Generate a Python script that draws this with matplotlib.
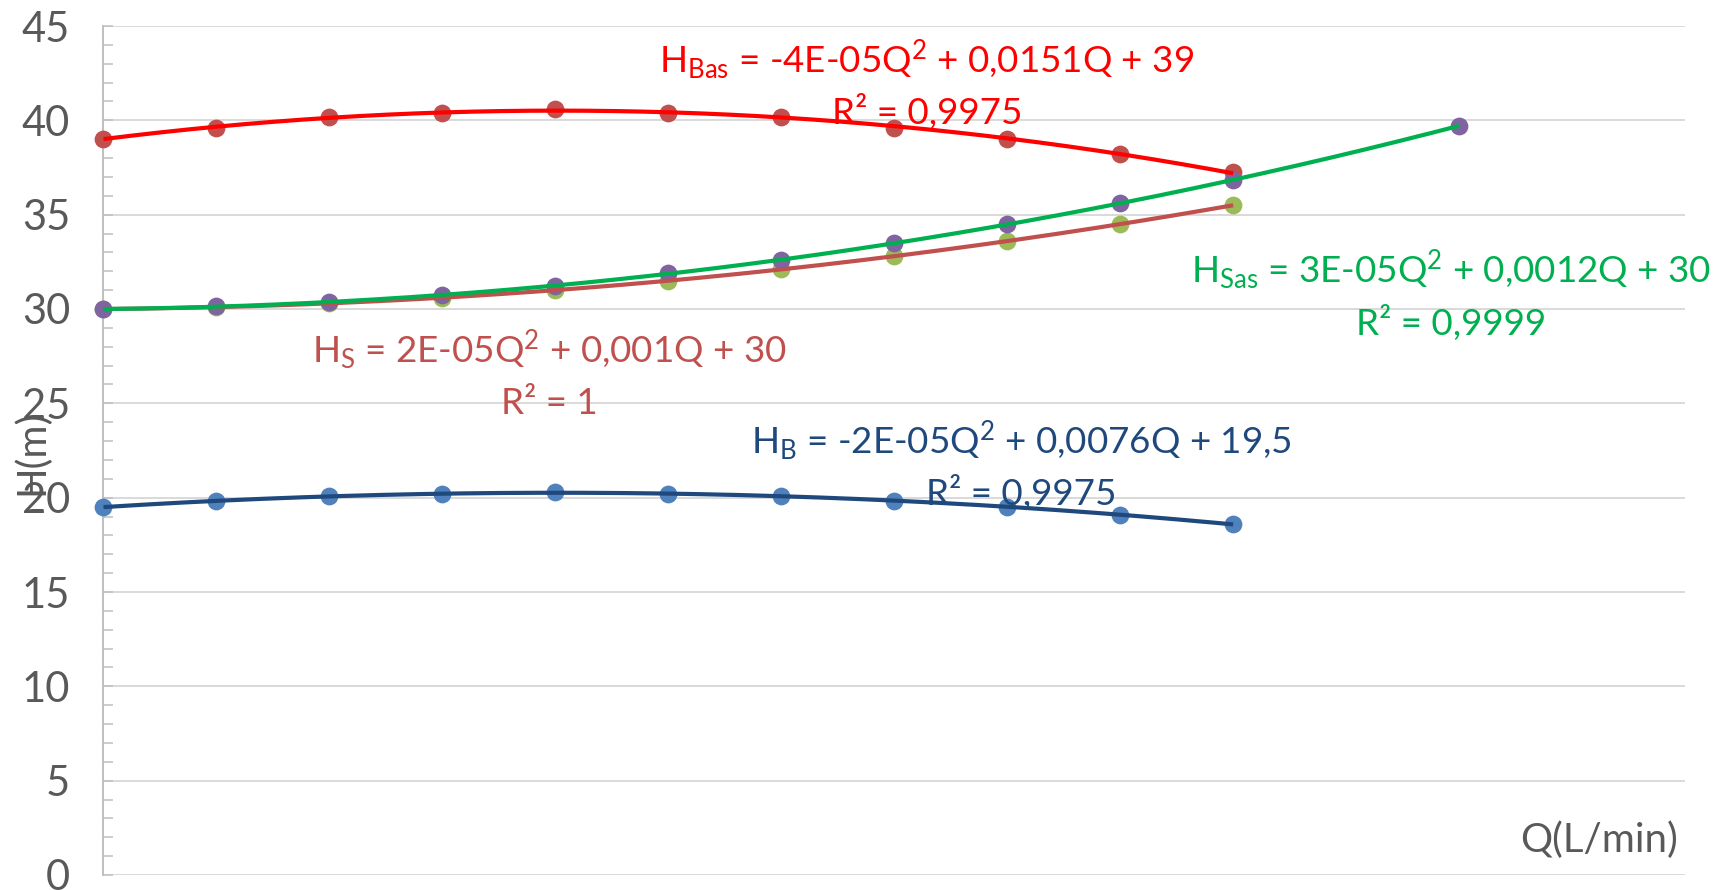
import numpy as np
import matplotlib
matplotlib.use("Agg")
import matplotlib.pyplot as plt

# ---- data ----
Q = [0, 50, 100, 150, 200, 250, 300, 350, 400, 450, 500]
Q_sas = [0, 50, 100, 150, 200, 250, 300, 350, 400, 450, 500, 600]
H_B = [19.5, 19.8, 20.1, 20.2, 20.3, 20.2, 20.1, 19.8, 19.5, 19.1, 18.6]
H_Bas = [39.0, 39.6, 40.2, 40.4, 40.6, 40.4, 40.2, 39.6, 39.0, 38.2, 37.25]
H_S = [30.0, 30.1, 30.3, 30.6, 31.0, 31.5, 32.1, 32.8, 33.6, 34.5, 35.5]
H_Sas = [30.0, 30.15, 30.35, 30.75, 31.2, 31.9, 32.6, 33.5, 34.5, 35.6, 36.85, 39.7]

eq_B = [r'H$_{\mathrm{B}}$ = -2E-05Q$^{\mathrm{2}}$ + 0,0076Q + 19,5', 'R² = 0,9975']
eq_Bas = [r'H$_{\mathrm{Bas}}$ = -4E-05Q$^{\mathrm{2}}$ + 0,0151Q + 39', 'R² = 0,9975']
eq_S = [r'H$_{\mathrm{S}}$ = 2E-05Q$^{\mathrm{2}}$ + 0,001Q + 30', 'R² = 1']
eq_Sas = [r'H$_{\mathrm{Sas}}$ = 3E-05Q$^{\mathrm{2}}$ + 0,0012Q + 30', 'R² = 0,9999']

FONT = 'Lato'
plt.rcParams['font.family'] = [FONT, 'DejaVu Sans']
plt.rcParams['mathtext.fontset'] = 'custom'
plt.rcParams['mathtext.rm'] = FONT
plt.rcParams['mathtext.it'] = FONT + ':italic'
plt.rcParams['mathtext.bf'] = FONT + ':bold'

W, H = 1731, 890
fig = plt.figure(figsize=(W / 100, H / 100), dpi=100)
left, right, top, bottom = 103.5, 1685, 26, 875
ax = fig.add_axes([left / W, 1 - bottom / H, (right - left) / W, (bottom - top) / H])

ax.set_xlim(0, 700)
ax.set_ylim(0, 45)
ax.set_yticks(np.arange(0, 46, 5))
ax.set_yticks(np.arange(0, 46, 1), minor=True)
ax.set_xticks([])
ax.yaxis.grid(True, which='major', color='#D9D9D9', lw=1.4)
ax.set_axisbelow(True)
for s in ['top', 'right', 'bottom']:
    ax.spines[s].set_visible(False)
ax.spines['left'].set_color('#BFBFBF')
ax.spines['left'].set_linewidth(1.4)
ax.tick_params(axis='y', which='both', direction='in', color='#BFBFBF', width=1.1)
ax.tick_params(axis='y', which='major', length=7.5, pad=24, labelsize=30, labelcolor='#595959')
ax.tick_params(axis='y', which='minor', length=7.5)

ms = 12.8
series = [
    (Q, H_B, '#4F81BD', '#1F497D'),
    (Q, H_Bas, '#C0504D', '#FF0000'),
    (Q, H_S, '#9BBB59', '#C0504D'),
    (Q_sas, H_Sas, '#8064A2', '#00B050'),
]
for x, y, mc, lc in series:
    ax.plot(x, y, 'o', color=mc, ms=ms, mew=0, zorder=3, clip_on=False)
for x, y, mc, lc in series:
    c = np.polyfit(x, y, 2)
    xx = np.linspace(min(x), max(x), 200)
    ax.plot(xx, np.polyval(c, xx), color=lc, lw=3.0, zorder=4, solid_capstyle='butt')

def ftext(px, py, s, color, **kw):
    fig.text(px / W, 1 - py / H, s, color=color, fontsize=26.5, ha='center', va='baseline', zorder=5, **kw)

for lines, (cx, by), col in [
    (eq_Bas, (927, 72), '#FF0000'),
    (eq_Sas, (1451, 283), '#00B050'),
    (eq_S, (549, 362), '#C0504D'),
    (eq_B, (1021, 453), '#1F497D'),
]:
    ftext(cx, by, lines[0], col)
    ftext(cx, by + 52, lines[1], col)

fig.text(32 / W, 1 - 452 / H, 'H(m)', rotation=90, ha='center', va='center', fontsize=29, color='#595959')
fig.text(1678 / W, 1 - 840 / H, 'Q(L/min)', ha='right', va='center', fontsize=29, color='#595959')

fig.savefig('out.png', dpi=100)
